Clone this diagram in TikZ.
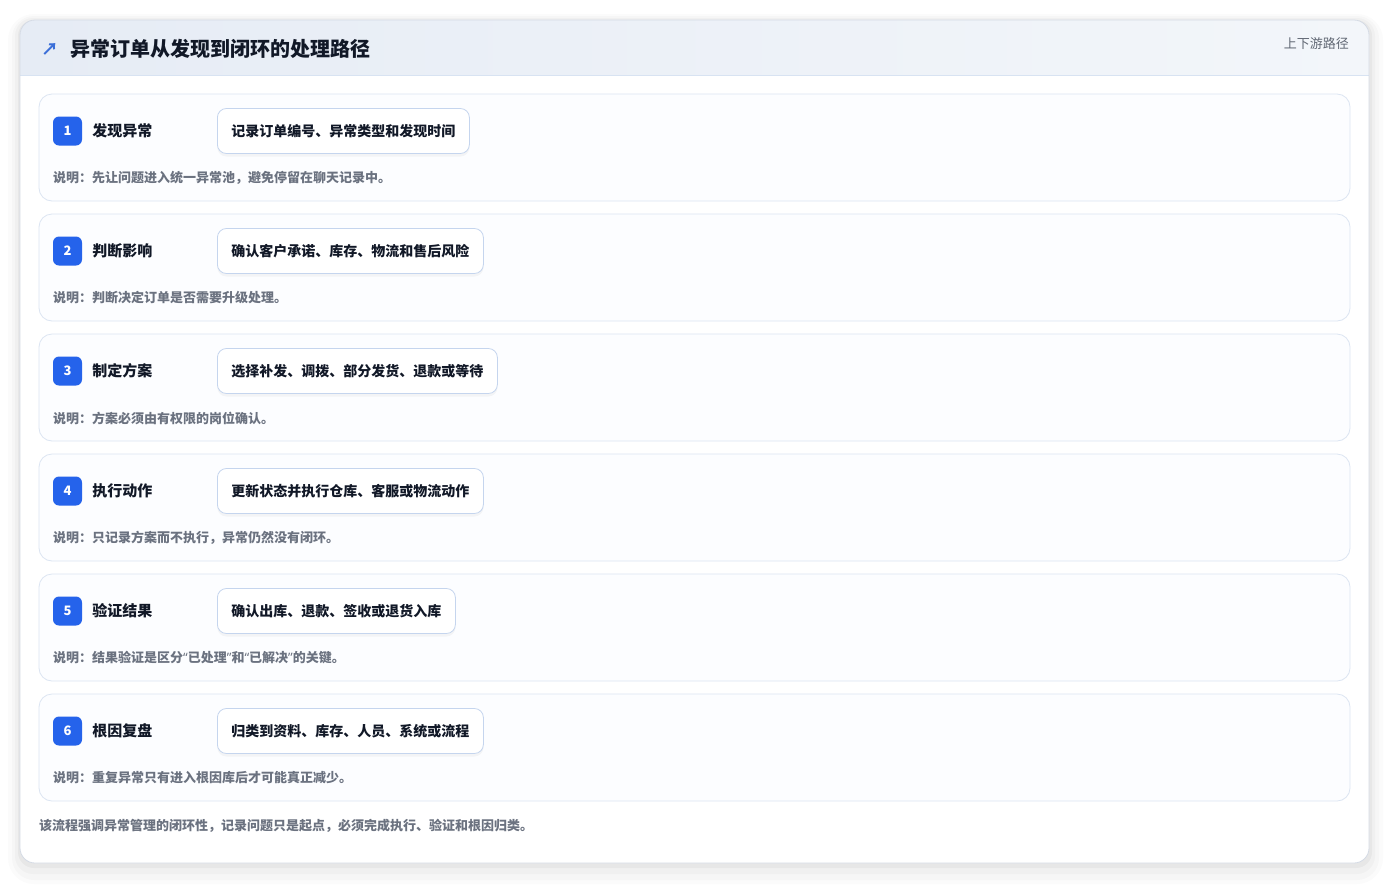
\documentclass[tikz,border=0pt]{standalone}
\usepackage{fontspec}
\setmainfont{Noto Sans CJK SC}
\newfontfamily\quotefont{Noto Sans}
\usetikzlibrary{positioning,shadows}

\definecolor{badgeblue}{HTML}{2563EB}
\definecolor{iconblue}{HTML}{3B6FD8}
\definecolor{inkdark}{HTML}{111827}
\definecolor{notegray}{HTML}{6B7280}
\definecolor{rowline}{HTML}{DCE5F2}
\definecolor{rowfill}{HTML}{FCFDFF}
\definecolor{boxline}{HTML}{C5D5EE}
\definecolor{cardline}{HTML}{D5DBE5}
\definecolor{headleft}{HTML}{E6ECF5}
\definecolor{headright}{HTML}{F3F6FA}
\definecolor{headline}{HTML}{D8E3F2}

\newcommand{\openq}{{\quotefont\bfseries “}}
\newcommand{\closeq}{{\quotefont\bfseries ”}}

\tikzset{
  rowbox/.style={draw=rowline, fill=rowfill, rounded corners=13pt, line width=0.8pt},
  badge/.style={fill=badgeblue, rounded corners=6pt, minimum size=29pt, inner sep=0pt,
    text=white, font=\bfseries\fontsize{13}{15}\selectfont},
  steplabel/.style={inner sep=0pt, text=inkdark, font=\bfseries\fontsize{15}{17}\selectfont},
  actionbox/.style={anchor=west, draw=boxline, fill=white, rounded corners=9pt, line width=0.8pt,
    inner xsep=14pt, minimum height=45pt, text=inkdark, font=\bfseries\fontsize{14}{16}\selectfont,
    drop shadow={opacity=0.07, shadow xshift=0pt, shadow yshift=-3pt}},
  note/.style={anchor=west, inner sep=0pt, text=notegray, font=\bfseries\fontsize{13}{15}\selectfont}
}

\begin{document}
\begin{tikzpicture}[x=1pt,y=-1pt]
% page and soft shadow
\fill[white] (0,0) rectangle (1390,884);
\useasboundingbox (0,0) rectangle (1390,884);
\fill[black,opacity=0.015,rounded corners=26pt] (8,14) rectangle (1383,884);
\fill[black,opacity=0.02,rounded corners=22pt] (12,16) rectangle (1379,880);
\fill[black,opacity=0.025,rounded corners=18pt] (15,18) rectangle (1375,874);
\fill[black,opacity=0.035,rounded corners=16pt] (18,20) rectangle (1372,868);

% card
\fill[white,rounded corners=15pt] (20,20) rectangle (1369,863);
\begin{scope}
  \clip[rounded corners=15pt] (20,20) rectangle (1369,863);
  \shade[left color=headleft, right color=headright] (20,20) rectangle (1369,75);
\end{scope}
\draw[headline,line width=0.8pt] (20,75) -- (1369,75);
\draw[cardline,line width=0.8pt,rounded corners=15pt] (20,20) rectangle (1369,863);

% header
\node[text=iconblue, font=\bfseries\fontsize{17}{19}\selectfont, inner sep=0pt] (icon) at (50,49) {↗};
\node[anchor=west, inner sep=0pt, text=inkdark, font=\bfseries\fontsize{20}{22}\selectfont] (title) at (70,49) {异常订单从发现到闭环的处理路径};
\node[anchor=east, inner sep=0pt, text=notegray!90!black, font=\fontsize{13}{15}\selectfont] (route) at (1349,44) {上下游路径};

% step 1
\draw[rowbox] (39,94) rectangle (1350,201);
\node[badge] (b1) at (67.5,131) {1};
\node[steplabel, right=10pt of b1] (l1) {发现异常};
\node[actionbox] (a1) at (217,131) {记录订单编号、异常类型和发现时间};
\node[note] (n1) at (53,178) {说明：先让问题进入统一异常池，避免停留在聊天记录中。};

% step 2
\draw[rowbox] (39,214) rectangle (1350,321);
\node[badge] (b2) at (67.5,251) {2};
\node[steplabel, right=10pt of b2] (l2) {判断影响};
\node[actionbox] (a2) at (217,251) {确认客户承诺、库存、物流和售后风险};
\node[note] (n2) at (53,298) {说明：判断决定订单是否需要升级处理。};

% step 3
\draw[rowbox] (39,334) rectangle (1350,441);
\node[badge] (b3) at (67.5,371) {3};
\node[steplabel, right=10pt of b3] (l3) {制定方案};
\node[actionbox] (a3) at (217,371) {选择补发、调拨、部分发货、退款或等待};
\node[note] (n3) at (53,418) {说明：方案必须由有权限的岗位确认。};

% step 4
\draw[rowbox] (39,454) rectangle (1350,561);
\node[badge] (b4) at (67.5,491) {4};
\node[steplabel, right=10pt of b4] (l4) {执行动作};
\node[actionbox] (a4) at (217,491) {更新状态并执行仓库、客服或物流动作};
\node[note] (n4) at (53,538) {说明：只记录方案而不执行，异常仍然没有闭环。};

% step 5
\draw[rowbox] (39,574) rectangle (1350,681);
\node[badge] (b5) at (67.5,611) {5};
\node[steplabel, right=10pt of b5] (l5) {验证结果};
\node[actionbox] (a5) at (217,611) {确认出库、退款、签收或退货入库};
\node[note] (n5) at (53,658) {说明：结果验证是区分\openq 已处理\closeq 和\openq 已解决\closeq 的关键。};

% step 6
\draw[rowbox] (39,694) rectangle (1350,801);
\node[badge] (b6) at (67.5,731) {6};
\node[steplabel, right=10pt of b6] (l6) {根因复盘};
\node[actionbox] (a6) at (217,731) {归类到资料、库存、人员、系统或流程};
\node[note] (n6) at (53,778) {说明：重复异常只有进入根因库后才可能真正减少。};

% footer
\node[note] (foot) at (39,826) {该流程强调异常管理的闭环性，记录问题只是起点，必须完成执行、验证和根因归类。};
\end{tikzpicture}
\end{document}
